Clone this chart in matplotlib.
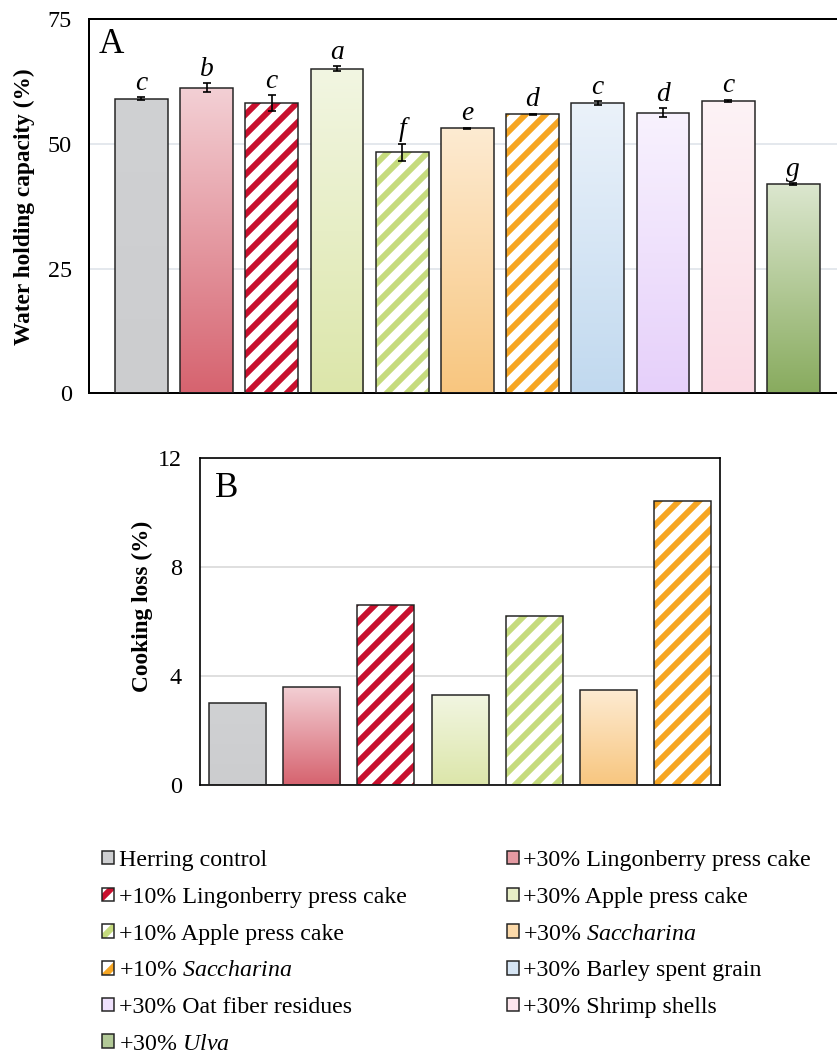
import matplotlib
matplotlib.use('Agg')
import matplotlib.pyplot as plt
import numpy as np
from matplotlib.colors import LinearSegmentedColormap, to_rgb
from matplotlib.patches import Rectangle

plt.rcParams['font.family'] = ['Liberation Serif', 'DejaVu Serif']
plt.rcParams['mathtext.fontset'] = 'custom'
plt.rcParams['mathtext.rm'] = 'Liberation Serif'
plt.rcParams['mathtext.it'] = 'Liberation Serif:italic'
plt.rcParams['hatch.linewidth'] = 3.6

# treatments (legend order)
labels = ['Herring control', '+30% Lingonberry press cake', '+10% Lingonberry press cake',
          '+30% Apple press cake', '+10% Apple press cake', '+30% $\\mathit{Saccharina}$',
          '+10% $\\mathit{Saccharina}$', '+30% Barley spent grain', '+30% Oat fiber residues',
          '+30% Shrimp shells', '+30% $\\mathit{Ulva}$']

# A: water holding capacity
whc = [59.0, 61.2, 58.1, 65.0, 48.3, 53.1, 55.9, 58.1, 56.2, 58.6, 41.9]
whc_err = [0.3, 0.9, 1.6, 0.5, 1.7, 0.1, 0.1, 0.4, 0.9, 0.2, 0.2]
whc_letters = ['c', 'b', 'c', 'a', 'f', 'e', 'd', 'c', 'd', 'c', 'g']

# B: cooking loss (first seven treatments only)
cl = [3.0, 3.6, 6.6, 3.3, 6.2, 3.5, 10.4]

# bar styling
tops = ['#D0D1D3', '#F3D0D5', None, '#F2F6E2', None, '#FDEBD2', None,
        '#EBF2FA', '#F8F2FE', '#FDF3F6', '#DCE7CF']
bottoms = ['#CCCDCF', '#D6636F', None, '#DCE6AA', None, '#F8C67F', None,
           '#C1D9EF', '#E6D0FA', '#FADAE4', '#88AB5E']
hatch_cols = [None, None, '#C8102E', None, '#C5DB7D', None, '#F6A623',
              None, None, None, None]
edge = '#222222'


def draw_bars(ax, values, width):
    x = np.arange(len(values))
    bars = ax.bar(x, values, width, facecolor='none', edgecolor=edge,
                  linewidth=0.9, zorder=3)
    for i, b in enumerate(bars):
        if hatch_cols[i]:
            ax.bar(x[i], values[i], width, facecolor='white', edgecolor=hatch_cols[i],
                   linewidth=0, hatch='//', zorder=2)
        else:
            x0, w, h = b.get_x(), b.get_width(), b.get_height()
            cmap = LinearSegmentedColormap.from_list('g%d' % i, [bottoms[i], tops[i]])
            grad = np.linspace(0, 1, 256).reshape(-1, 1)
            im = ax.imshow(grad, cmap=cmap, extent=(x0, x0 + w, 0, h), origin='lower',
                           aspect='auto', interpolation='bilinear', zorder=2)
            im.set_clip_path(b)
    return x


fig = plt.figure(figsize=(837 / 120, 1056 / 120), dpi=120)

# ---- panel A
axA = fig.add_axes([88.5 / 837, 1 - 393.5 / 1056, (837 - 88.5) / 837, (393.5 - 19) / 1056])
xA = draw_bars(axA, whc, 0.81)
axA.errorbar(xA, whc, yerr=whc_err, fmt='none', ecolor='black', elinewidth=1.0,
             capsize=2.6, capthick=1.0, zorder=4)
for xi, v, e, l in zip(xA, whc, whc_err, whc_letters):
    axA.annotate(l, (xi, v + e), xytext=(0, 4.5), textcoords='offset points',
                 ha='center', va='baseline', fontstyle='italic', fontsize=16.5)
axA.set_xlim(-0.81, 10.67)
axA.set_ylim(0, 75)
axA.set_yticks([0, 25, 50, 75])
axA.set_xticks([])
axA.tick_params(axis='y', length=0, pad=10, labelsize=14.5)
axA.yaxis.grid(True, color='#DFE4EA', linewidth=1.0)
axA.set_axisbelow(True)
axA.spines['right'].set_visible(False)
for s in ['left', 'top', 'bottom']:
    axA.spines[s].set_linewidth(1.2)
axA.set_ylabel('Water holding capacity (%)', fontsize=14, fontweight='bold', va='center')
axA.yaxis.set_label_coords(-0.085, 0.5)
axA.text(0.013, 0.909, 'A', transform=axA.transAxes, fontsize=21, va='baseline')

# ---- panel B
axB = fig.add_axes([200.4 / 837, 1 - 785 / 1056, 519.4 / 837, 327.3 / 1056])
draw_bars(axB, cl, 0.77)
axB.set_xlim(-0.5, 6.5)
axB.set_ylim(0, 12)
axB.set_yticks([0, 4, 8, 12])
axB.set_xticks([])
axB.tick_params(axis='y', length=0, pad=11, labelsize=14.5)
axB.yaxis.grid(True, color='#D9D9D9', linewidth=1.0)
axB.set_axisbelow(True)
for s in axB.spines.values():
    s.set_linewidth(1.0)
axB.set_ylabel('Cooking loss (%)', fontsize=14, fontweight='bold', va='center')
axB.yaxis.set_label_coords(-0.1124, 0.545)
axB.text(0.028, 0.88, 'B', transform=axB.transAxes, fontsize=21, va='baseline')

# ---- legend
handles = []
for i in range(len(labels)):
    if hatch_cols[i]:
        h = (Rectangle((0, 0), 1, 1, facecolor='white', edgecolor=hatch_cols[i],
                       linewidth=0, hatch='//'),
             Rectangle((0, 0), 1, 1, fill=False, edgecolor=edge, linewidth=0.9))
    else:
        mid = tuple((a + b) / 2 for a, b in zip(to_rgb(tops[i]), to_rgb(bottoms[i])))
        h = Rectangle((0, 0), 1, 1, facecolor=mid, edgecolor=edge, linewidth=0.9)
    handles.append(h)
order = [0, 2, 4, 6, 8, 10, 1, 3, 5, 7, 9]
fig.legend([handles[i] for i in order], [labels[i] for i in order], ncol=2,
           loc='upper left', bbox_to_anchor=(0.122, 0.195), frameon=False, fontsize=14.3,
           handlelength=0.5, handleheight=0.5, handletextpad=0.2, labelspacing=0.66,
           columnspacing=4.2, borderpad=0, borderaxespad=0)

fig.savefig('out.png', dpi=120)
